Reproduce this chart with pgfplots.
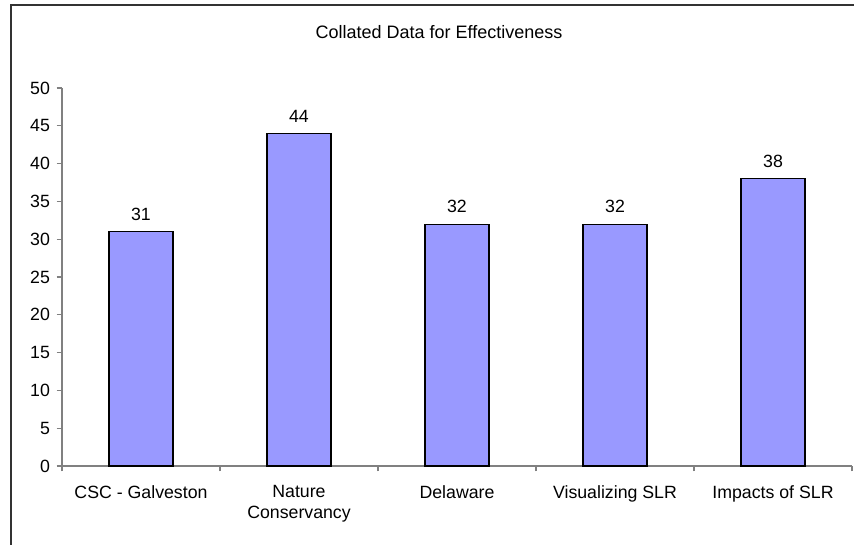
\documentclass[border=0pt]{standalone}
\usepackage{pgfplots}
\pgfplotsset{compat=1.18}
\usepackage{fontspec}
\setmainfont{Liberation Sans}
\definecolor{barblue}{RGB}{153,153,255}
\definecolor{axgray}{RGB}{128,128,128}
\begin{document}
\begin{tikzpicture}[x=1pt,y=1pt]
\useasboundingbox (-46.5,-58.5) rectangle (594,349.5);
\draw[line width=1.3pt, black!80] (-38.25,345.75) rectangle (640,-90);
\begin{axis}[
  at={(0,0)}, anchor=south west,
  scale only axis,
  width=592.5pt, height=283.5pt,
  ybar, bar width=48pt,
  xmin=-0.5, xmax=4.5,
  ymin=0, ymax=50,
  ytick={0,5,...,50},
  xtick={0,1,2,3,4},
  xticklabels={CSC - Galveston,{Nature\\Conservancy},Delaware,Visualizing SLR,Impacts of SLR},
  minor xtick={-0.5,0.5,1.5,2.5,3.5,4.5},
  axis x line*=bottom, axis y line*=left,
  axis line style={axgray, line width=0.8pt},
  every tick/.style={axgray, line width=0.8pt},
  major x tick style={draw=none},
  tick align=outside,
  major tick length=4pt, minor tick length=4pt,
  ticklabel style={font=\fontsize{13.3}{15.5}\selectfont},
  xticklabel style={align=center, yshift=-7pt},
  yticklabel style={xshift=-1.5pt},
  /pgf/number format/assume math mode=true,
  nodes near coords,
  every node near coord/.append style={font=\fontsize{13.3}{15.5}\selectfont, black, yshift=4.5pt},
  clip=false,
]
\addplot[fill=barblue, draw=black, line width=0.8pt] coordinates {(0,31) (1,44) (2,32) (3,32) (4,38)};
\end{axis}
\node[font=\fontsize{13.5}{16}\selectfont] at (282.75,325.5) {Collated Data for Effectiveness};
\end{tikzpicture}
\end{document}
